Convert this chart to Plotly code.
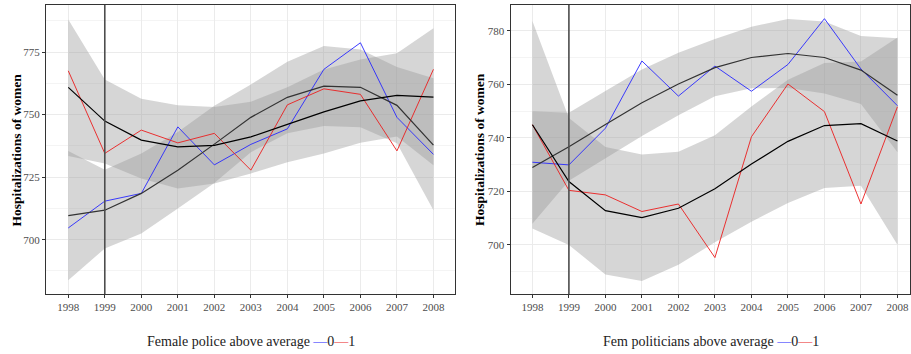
import plotly.graph_objects as go

years = list(range(1998, 2009))

# left panel: female police above average (0 / 1)
police_0 = [704.7, 715.4, 718.5, 745.1, 729.9, 738.1, 744.3, 768.1, 778.7, 748.9, 734.1]
police_1 = [767.5, 734.5, 743.8, 738.7, 742.5, 727.8, 753.9, 760.3, 758.1, 735.5, 768.1]
police_fit_0 = [709.6, 711.8, 718.5, 727.8, 738.2, 748.9, 756.9, 761.4, 760.9, 753.7, 737.8]
police_lo_0 = [683.8, 696.5, 702.5, 712.5, 722.7, 735.0, 742.5, 745.4, 744.9, 738.5, 711.8]
police_hi_0 = [735.5, 728.0, 734.5, 743.0, 753.5, 762.0, 771.1, 777.4, 776.0, 769.0, 764.5]
police_fit_1 = [760.9, 747.4, 739.8, 737.1, 737.7, 741.1, 746.1, 751.1, 755.5, 757.7, 757.0]
police_lo_1 = [733.5, 730.5, 724.5, 720.5, 722.5, 726.5, 731.0, 734.5, 738.7, 741.2, 729.8]
police_hi_1 = [788.0, 764.0, 756.3, 753.7, 753.0, 755.1, 760.9, 768.0, 772.0, 774.5, 784.5]

# right panel: female politicians above average (0 / 1)
polit_0 = [730.9, 729.9, 743.6, 768.7, 755.6, 766.8, 757.4, 767.4, 784.5, 765.7, 752.0]
polit_1 = [744.9, 720.4, 718.7, 712.5, 715.3, 695.3, 740.4, 760.1, 749.8, 715.3, 751.6]
polit_fit_0 = [728.9, 736.7, 745.0, 753.1, 760.1, 766.2, 770.0, 771.5, 770.0, 765.3, 755.9]
polit_lo_0 = [707.9, 724.0, 732.5, 740.7, 748.4, 755.5, 758.5, 758.6, 756.6, 752.6, 734.6]
polit_hi_0 = [749.9, 749.4, 757.5, 765.5, 771.8, 776.9, 781.5, 784.4, 783.4, 778.0, 777.2]
polit_fit_1 = [744.9, 723.7, 712.8, 710.2, 713.7, 721.0, 730.2, 738.7, 744.6, 745.3, 738.8]
polit_lo_1 = [706.2, 700.0, 689.0, 686.6, 692.6, 701.0, 708.7, 715.7, 721.3, 722.1, 700.1]
polit_hi_1 = [783.6, 747.4, 736.6, 733.8, 734.8, 741.0, 751.7, 761.7, 767.9, 768.5, 777.5]

reform_year = 1999

FONT = "Liberation Serif"
BLUE = "rgba(40,40,255,0.9)"
RED = "rgba(235,30,30,0.9)"
BAND = "rgba(153,153,153,0.4)"

fig = go.Figure()


def add_panel(xa, ya, series, fits):
    for lo, hi in fits:
        fig.add_trace(go.Scatter(
            x=years + years[::-1], y=hi + lo[::-1], fill="toself",
            fillcolor=BAND, line=dict(width=0), mode="lines",
            hoverinfo="skip", showlegend=False, xaxis=xa, yaxis=ya,
        ))
    for vals, color in series:
        fig.add_trace(go.Scatter(
            x=years, y=vals, mode="lines", line=dict(color=color, width=1),
            showlegend=False, xaxis=xa, yaxis=ya,
        ))


add_panel("x", "y",
          [(police_0, BLUE), (police_1, RED)],
          [(police_lo_0, police_hi_0), (police_lo_1, police_hi_1)])
add_panel("x2", "y2",
          [(polit_0, BLUE), (polit_1, RED)],
          [(polit_lo_0, polit_hi_0), (polit_lo_1, polit_hi_1)])

for xa, ya, f0, f1 in [("x", "y", police_fit_0, police_fit_1),
                       ("x2", "y2", polit_fit_0, polit_fit_1)]:
    fig.add_trace(go.Scatter(x=years, y=f0, mode="lines",
                             line=dict(color="#333333", width=1.2),
                             showlegend=False, xaxis=xa, yaxis=ya))
    fig.add_trace(go.Scatter(x=years, y=f1, mode="lines",
                             line=dict(color="black", width=1.2),
                             showlegend=False, xaxis=xa, yaxis=ya))

W, H = 911, 354
top, bottom = 5, 294
ydom = [1 - bottom / H, 1 - top / H]

xaxis_style = dict(
    tickmode="array", tickvals=years, ticktext=[str(y) for y in years],
    showgrid=True, gridcolor="#ebebeb", gridwidth=1,
    showline=True, linecolor="#333333", linewidth=1, mirror=True,
    ticks="outside", ticklen=3, tickcolor="#333333",
    tickfont=dict(family=FONT, size=11, color="#4d4d4d"),
    zeroline=False, automargin=False,
)
yaxis_style = dict(
    showgrid=True, gridcolor="#ebebeb", gridwidth=1,
    showline=True, linecolor="#333333", linewidth=1, mirror=True,
    ticks="outside", ticklen=3, tickcolor="#333333",
    tickfont=dict(family=FONT, size=11, color="#4d4d4d"),
    zeroline=False, automargin=False,
)

fig.update_layout(
    width=W, height=H,
    margin=dict(l=0, r=0, t=0, b=0),
    plot_bgcolor="white", paper_bgcolor="white",
    showlegend=False,
    xaxis=dict(domain=[46 / W, 455 / W], range=[1997.39, 2008.59], **xaxis_style),
    yaxis=dict(domain=ydom, range=[678.3, 793.8], tickvals=[700, 725, 750, 775],
               minor=dict(tickvals=[687.5, 712.5, 737.5, 762.5, 787.5],
                          showgrid=True, gridcolor="#f4f4f4", ticks=""),
               **yaxis_style),
    xaxis2=dict(domain=[510.5 / W, 909.5 / W], range=[1997.4, 2008.33],
                anchor="y2", **xaxis_style),
    yaxis2=dict(domain=ydom, range=[681.7, 789.6], anchor="x2",
                tickvals=[700, 720, 740, 760, 780],
                minor=dict(tickvals=[690, 710, 730, 750, 770],
                           showgrid=True, gridcolor="#f4f4f4", ticks=""),
                **yaxis_style),
)

for xa in ["x", "x2"]:
    fig.add_shape(type="line", xref=xa, yref="paper", x0=reform_year, x1=reform_year,
                  y0=ydom[0], y1=ydom[1], line=dict(color="#4d4d4d", width=1.6))

# y-axis titles
for xpx in [15.5, 479]:
    fig.add_annotation(text="<b>Hospitalizations of women</b>", textangle=-90,
                       x=xpx / W, y=1 - 150 / H, xref="paper", yref="paper",
                       xanchor="center", yanchor="middle",
                       showarrow=False, font=dict(family=FONT, size=13.5, color="black"))

legend_html = ("{} <span style='color:#2828ff'>\u2014</span>0"
               "<span style='color:#eb1e1e'>\u2014</span>1")
fig.add_annotation(text=legend_html.format("Female police above average"),
                   x=250.5 / W, y=1 - 341 / H, xref="paper", yref="paper",
                   xanchor="center", yanchor="middle",
                   showarrow=False, font=dict(family=FONT, size=14, color="#222222"))
fig.add_annotation(text=legend_html.format("Fem politicians above average"),
                   x=711 / W, y=1 - 341 / H, xref="paper", yref="paper",
                   xanchor="center", yanchor="middle",
                   showarrow=False, font=dict(family=FONT, size=14, color="#222222"))

fig.write_html("out.html", config={"displayModeBar": False},
               post_script="document.body.style.margin = '0';")
